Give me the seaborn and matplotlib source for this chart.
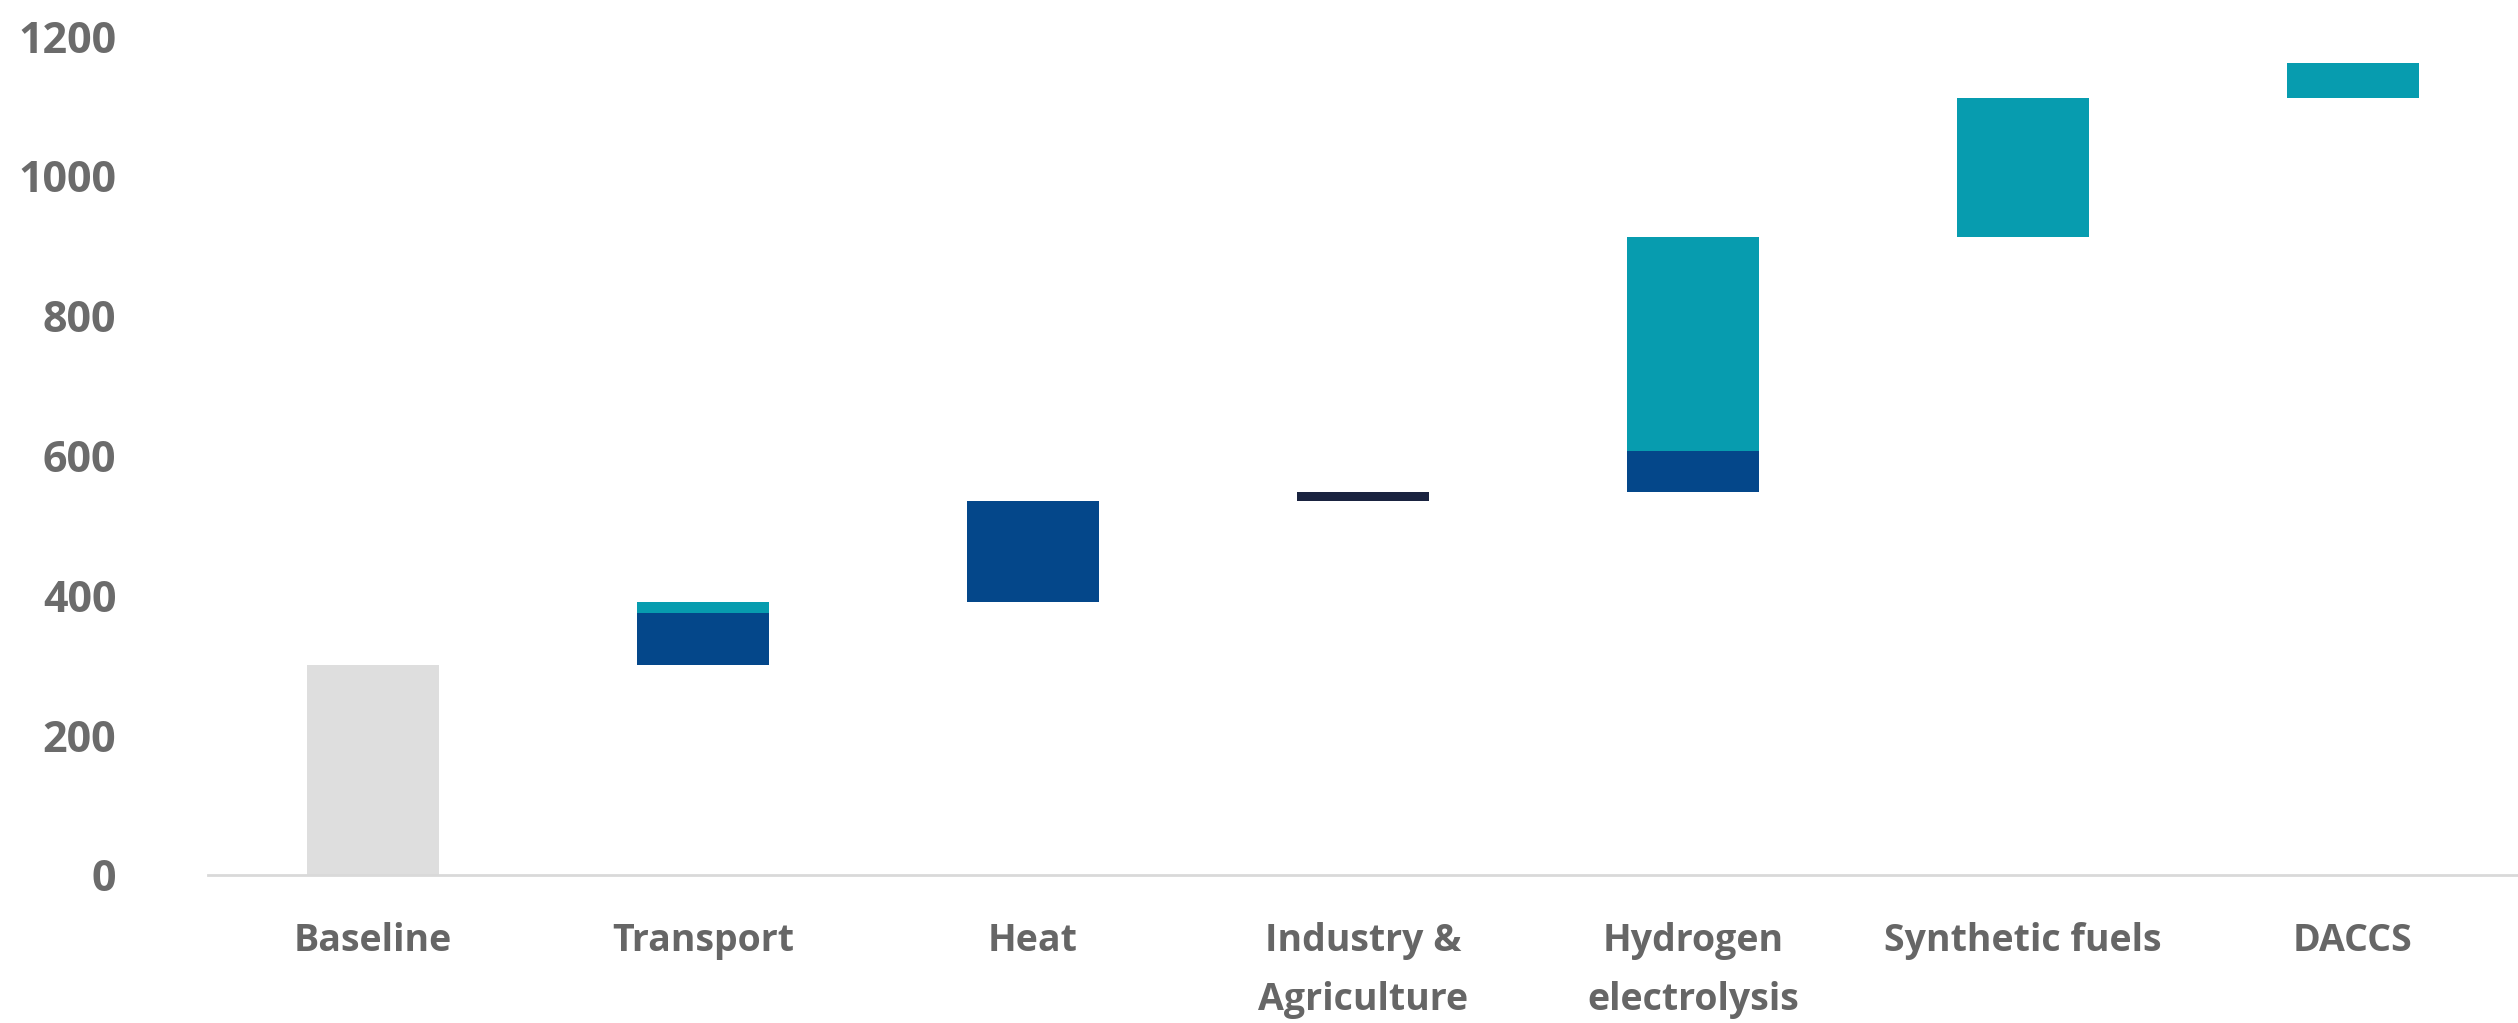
import matplotlib
matplotlib.use("Agg")
import matplotlib.pyplot as plt
import seaborn as sns

categories = ["Baseline", "Transport", "Heat", "Industry &\nAgriculture",
              "Hydrogen\nelectrolysis", "Synthetic fuels", "DACCS"]
seg_category = ["Baseline", "Transport", "Transport", "Heat", "Industry &\nAgriculture",
                "Hydrogen\nelectrolysis", "Hydrogen\nelectrolysis", "Synthetic fuels", "DACCS"]
seg_start = [0, 300, 374, 390, 535, 548, 607, 913, 1111]
seg_end = [300, 374, 390, 535, 548, 607, 913, 1111, 1161]
seg_kind = ["base", "dark", "teal", "dark", "navy", "dark", "teal", "teal", "teal"]
kind_colors = {"base": "#DEDEDE", "dark": "#04478A", "teal": "#079CAF", "navy": "#1A2340"}
y_ticks = [0, 200, 400, 600, 800, 1000, 1200]

sns.set_theme(style="white")
plt.rcParams['font.family'] = ['Open Sans', 'DejaVu Sans']

fig = plt.figure(figsize=(25.18, 10.23), dpi=100)
ax = fig.add_axes([0.0826, 0.1447, 0.9174, 0.8201])

for cat, s, e, k in zip(seg_category, seg_start, seg_end, seg_kind):
    sns.barplot(x=[cat], y=[e - s], bottom=s, order=categories, color=kind_colors[k],
                saturation=1, width=0.4, errorbar=None, linewidth=0, ax=ax)

ax.set_xlim(-0.5, 6.5)
ax.set_ylim(0, 1200)
ax.set_yticks(y_ticks)
ax.set_yticklabels([str(v) for v in y_ticks], fontsize=31, fontweight="bold", color="#6B6B6B")
ax.set_xticks(range(len(categories)))
ax.set_xticklabels(categories, fontsize=27, fontweight="bold", color="#666666", linespacing=1.72)
ax.tick_params(axis="y", length=0, pad=66)
ax.tick_params(axis="x", length=0, pad=34)
for lab in ax.get_xticklabels():
    lab.set_verticalalignment("top")
ax.set_xlabel("")
ax.set_ylabel("")
for sp in ["top", "right", "left"]:
    ax.spines[sp].set_visible(False)
ax.spines["bottom"].set_color("#D9D9D9")
ax.spines["bottom"].set_linewidth(2)
ax.grid(False)

fig.savefig("out.png", dpi=100, facecolor="white")
